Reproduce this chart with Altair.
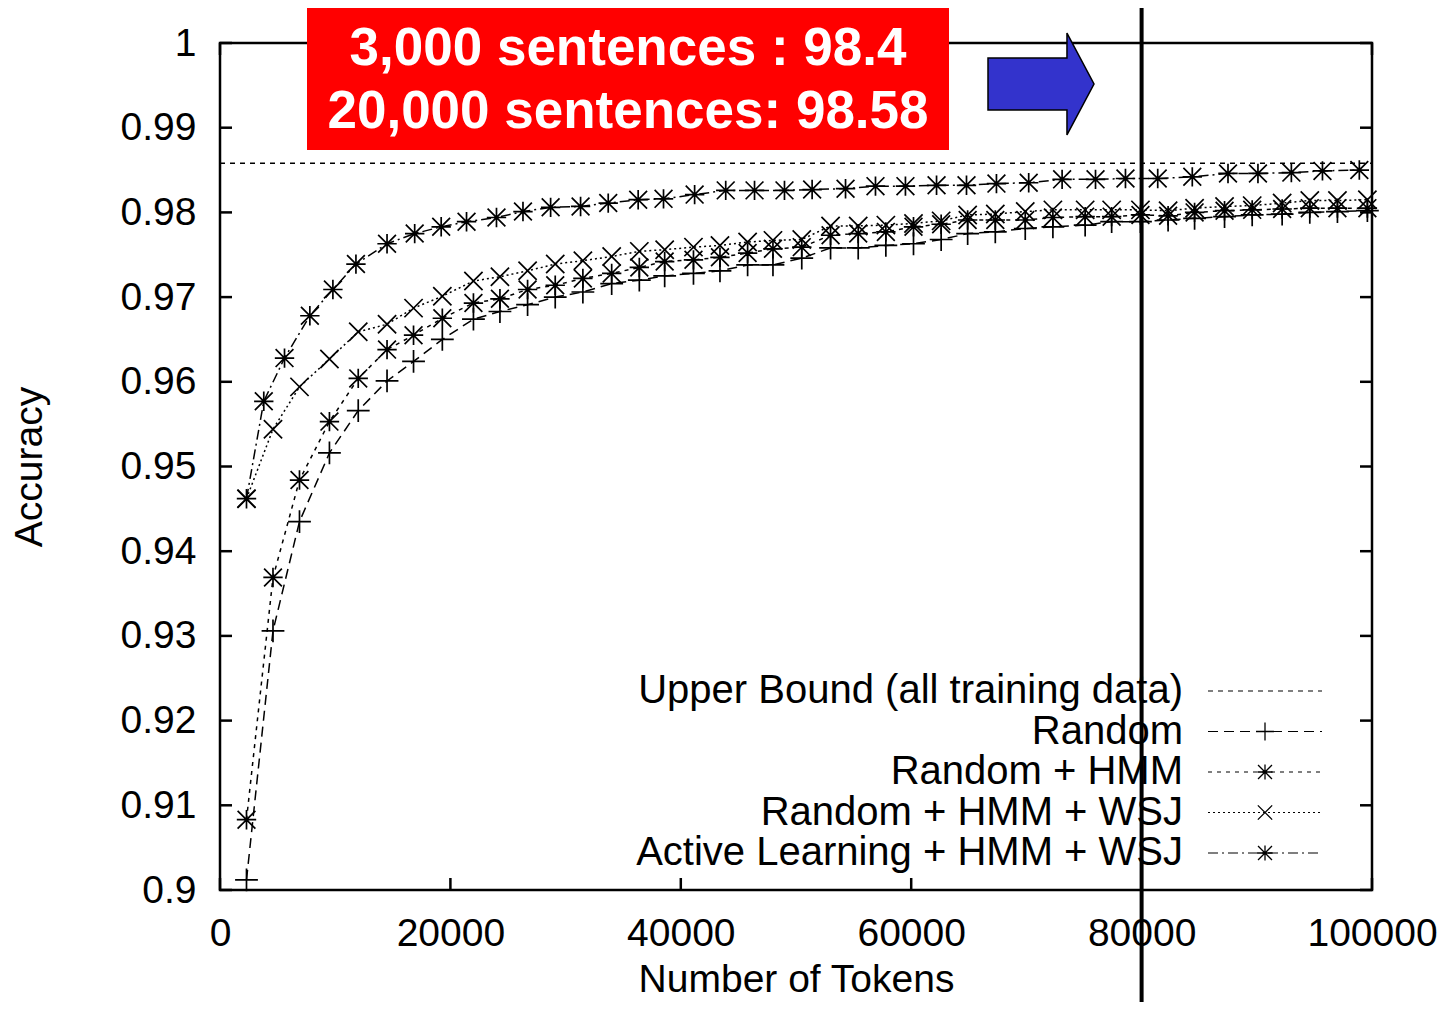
import altair as alt
import pandas as pd

# ---------------- data ----------------
series_names = [
    "Upper Bound (all training data)",
    "Random",
    "Random + HMM",
    "Random + HMM + WSJ",
    "Active Learning + HMM + WSJ",
]

upper_tokens = [0, 100000]
upper_acc = [0.9858, 0.9858]

tokens = [2300, 4600, 6900, 9500, 12000, 14500, 16800, 19300, 22000, 24300,
          26700, 29100, 31500, 34000, 36400, 38600, 41100, 43400, 45800, 48000,
          50500, 53000, 55400, 57800, 60200, 62600, 64900, 67300, 69900, 72300,
          75100, 77400, 79900, 82300, 84600, 87200, 89600, 92200, 94600, 97000,
          99600]

random_acc = [0.9012, 0.9306, 0.9435, 0.9516, 0.9566, 0.9601, 0.9624, 0.9650, 0.9674, 0.9683,
              0.9691, 0.9700, 0.9706, 0.9716, 0.9720, 0.9725, 0.9728, 0.9731, 0.9738, 0.9738,
              0.9746, 0.9758, 0.9758, 0.9761, 0.9763, 0.9768, 0.9775, 0.9777, 0.9781, 0.9783,
              0.9785, 0.9789, 0.9789, 0.9791, 0.9793, 0.9795, 0.9797, 0.9798, 0.9800, 0.9801,
              0.9802]

hmm_acc = [0.9083, 0.9369, 0.9484, 0.9553, 0.9604, 0.9638, 0.9655, 0.9675, 0.9693, 0.9698,
           0.9709, 0.9714, 0.9722, 0.9728, 0.9735, 0.9742, 0.9744, 0.9747, 0.9752, 0.9757,
           0.9759, 0.9773, 0.9775, 0.9777, 0.9783, 0.9786, 0.9791, 0.9791, 0.9791, 0.9794,
           0.9795, 0.9795, 0.9797, 0.9796, 0.9800, 0.9802, 0.9803, 0.9804, 0.9805, 0.9805,
           0.9805]

wsj_acc = [0.9462, 0.9544, 0.9594, 0.9627, 0.9659, 0.9668, 0.9687, 0.9701, 0.9719, 0.9724,
           0.9731, 0.9739, 0.9743, 0.9748, 0.9754, 0.9756, 0.9759, 0.9761, 0.9765, 0.9767,
           0.9768, 0.9784, 0.9784, 0.9785, 0.9787, 0.9790, 0.9797, 0.9798, 0.9801, 0.9803,
           0.9803, 0.9803, 0.9803, 0.9802, 0.9805, 0.9807, 0.9808, 0.9811, 0.9814, 0.9814,
           0.9815]

al_tokens = [2300, 3800, 5600, 7800, 9800, 11800, 14500, 16900, 19200, 21400,
             24000, 26300, 28700, 31300, 33700, 36300, 38500, 41200, 43900, 46400,
             49000, 51400, 54300, 56900, 59500, 62200, 64800, 67400, 70200, 73100,
             76000, 78600, 81400, 84400, 87500, 90100, 93000, 95700, 98900]

al_acc = [0.9462, 0.9577, 0.9628, 0.9678, 0.9709, 0.9739, 0.9763, 0.9775, 0.9783, 0.9789,
          0.9794, 0.9801, 0.9806, 0.9807, 0.9811, 0.9815, 0.9816, 0.9821, 0.9826, 0.9826,
          0.9826, 0.9827, 0.9828, 0.9831, 0.9831, 0.9832, 0.9832, 0.9834, 0.9835, 0.9839,
          0.9839, 0.9840, 0.9840, 0.9842, 0.9846, 0.9846, 0.9847, 0.9849, 0.9850]

x_ticks = [0, 20000, 40000, 60000, 80000, 100000]
y_ticks = [0.9, 0.91, 0.92, 0.93, 0.94, 0.95, 0.96, 0.97, 0.98, 0.99, 1.0]
marker_tokens = [80000]
box_lines = ["3,000 sentences : 98.4", "20,000 sentences: 98.58"]

# ---------------- tables ----------------
rows = []
for t, a in zip(upper_tokens, upper_acc):
    rows.append({"series": series_names[0], "tokens": t, "acc": a})
for name, ys in [(series_names[1], random_acc), (series_names[2], hmm_acc), (series_names[3], wsj_acc)]:
    for t, a in zip(tokens, ys):
        rows.append({"series": name, "tokens": t, "acc": a})
for t, a in zip(al_tokens, al_acc):
    rows.append({"series": series_names[4], "tokens": t, "acc": a})
df = pd.DataFrame(rows)
df_pts = df[df["series"] != series_names[0]]

W, H = 1152, 847
FONT = "Liberation Sans"

PLUS = "M -1 0 L 1 0 M 0 -1 L 0 1"
STAR = "M -0.85 0 L 0.85 0 M 0 -0.85 L 0 0.85 M -0.78 -0.78 L 0.78 0.78 M -0.78 0.78 L 0.78 -0.78"
XMARK = "M -0.8 -0.8 L 0.8 0.8 M -0.8 0.8 L 0.8 -0.8"
ARROW = "M -1 -0.49 L 0.49 -0.49 L 0.49 -0.96 L 1 0 L 0.49 0.96 L 0.49 0.49 L -1 0.49 Z"

x_scale = alt.Scale(domain=[0, 100000], nice=False, zero=False)
y_scale = alt.Scale(domain=[0.9, 1.0], nice=False, zero=False)
dash_scale = alt.Scale(domain=series_names, range=[[5, 5], [10, 6], [4, 5], [2, 3], [10, 4, 2, 4]])
shape_scale = alt.Scale(domain=series_names[1:], range=[PLUS, STAR, XMARK, STAR])

x_axis = alt.Axis(values=x_ticks, format="d", ticks=False, tickSize=0, domain=False, grid=False,
                  labelFont=FONT, labelFontSize=39, labelColor="black", labelPadding=24,
                  labelFlush=False, labelOverlap=False,
                  title="Number of Tokens", titleFont=FONT, titleFontSize=39, titleFontWeight="normal",
                  titleColor="black", titleX=576, titleY=101, titleBaseline="alphabetic", titleAlign="center")
y_axis = alt.Axis(values=y_ticks, format=".2~f", ticks=False, tickSize=0, domain=False, grid=False,
                  labelFont=FONT, labelFontSize=39, labelColor="black", labelPadding=24,
                  labelFlush=False, labelOverlap=False,
                  title="Accuracy", titleFont=FONT, titleFontSize=39, titleFontWeight="normal",
                  titleColor="black", titleX=-179, titleY=423.5, titleAngle=270,
                  titleBaseline="alphabetic", titleAlign="center")

lines = alt.Chart(df).mark_line(color="black", strokeWidth=1.5).encode(
    x=alt.X("tokens:Q", scale=x_scale, axis=x_axis),
    y=alt.Y("acc:Q", scale=y_scale, axis=y_axis),
    strokeDash=alt.StrokeDash("series:N", scale=dash_scale, legend=None),
    detail="series:N",
)
points = alt.Chart(df_pts).mark_point(filled=False, color="black", strokeWidth=1.7, size=520, opacity=1).encode(
    x=alt.X("tokens:Q", scale=x_scale),
    y=alt.Y("acc:Q", scale=y_scale),
    shape=alt.Shape("series:N", scale=shape_scale, legend=None),
)

ytick_df = pd.DataFrame({"acc": y_ticks})
xtick_df = pd.DataFrame({"tokens": x_ticks})
yt_left = alt.Chart(ytick_df).mark_rule(color="black", strokeWidth=2.5).encode(
    y=alt.Y("acc:Q", scale=y_scale), x=alt.value(0), x2=alt.value(12))
yt_right = alt.Chart(ytick_df).mark_rule(color="black", strokeWidth=2.5).encode(
    y=alt.Y("acc:Q", scale=y_scale), x=alt.value(W - 12), x2=alt.value(W))
xt_bottom = alt.Chart(xtick_df).mark_rule(color="black", strokeWidth=2.5).encode(
    x=alt.X("tokens:Q", scale=x_scale), y=alt.value(H - 12), y2=alt.value(H))
xt_top = alt.Chart(xtick_df).mark_rule(color="black", strokeWidth=2.5).encode(
    x=alt.X("tokens:Q", scale=x_scale), y=alt.value(0), y2=alt.value(12))
vline = alt.Chart(pd.DataFrame({"tokens": marker_tokens})).mark_rule(color="black", strokeWidth=4).encode(
    x=alt.X("tokens:Q", scale=x_scale), y=alt.value(-35), y2=alt.value(H + 112))

main = alt.layer(lines, points, yt_left, yt_right, xt_bottom, xt_top)

# ---------------- legend (inside plot, bottom right) ----------------
leg_df = pd.DataFrame({"series": series_names, "row": list(range(len(series_names)))})
leg_y = alt.Scale(domain=[0, len(series_names) - 1], range=[648, 810], nice=False, zero=False)
leg_text = alt.Chart(leg_df).mark_text(align="right", baseline="middle", font=FONT, fontSize=40,
                                       color="black").encode(
    text="series:N", y=alt.Y("row:Q", scale=leg_y, axis=None), x=alt.value(963))
leg_rule = alt.Chart(leg_df).mark_rule(color="black", strokeWidth=1.2).encode(
    y=alt.Y("row:Q", scale=leg_y, axis=None), x=alt.value(988), x2=alt.value(1102),
    strokeDash=alt.StrokeDash("series:N", scale=dash_scale, legend=None))
leg_pts = alt.Chart(leg_df[leg_df["series"] != series_names[0]]).mark_point(
    filled=False, color="black", strokeWidth=1.3, size=320, opacity=1).encode(
    y=alt.Y("row:Q", scale=leg_y, axis=None), x=alt.value(1045),
    shape=alt.Shape("series:N", scale=shape_scale, legend=None))
legend = alt.layer(leg_text, leg_rule, leg_pts)

# ---------------- annotations ----------------
one = pd.DataFrame({"k": [0]})
box = alt.Chart(one).mark_rect(color="#ff0000", opacity=1).encode(
    x=alt.value(87), x2=alt.value(729), y=alt.value(-40), y2=alt.value(107))
t1 = alt.Chart(one).mark_text(text=box_lines[0], font=FONT, fontSize=53, fontWeight="bold",
                              color="white", align="center", baseline="alphabetic").encode(
    x=alt.value(408), y=alt.value(22))
t2 = alt.Chart(one).mark_text(text=box_lines[1], font=FONT, fontSize=53, fontWeight="bold",
                              color="white", align="center", baseline="alphabetic").encode(
    x=alt.value(408), y=alt.value(85))
arrow = alt.Chart(one).mark_point(shape=ARROW, size=11236, filled=True, fill="#3333cc",
                                  stroke="black", strokeWidth=1.5, opacity=1).encode(
    x=alt.value(821), y=alt.value(41))

chart = alt.layer(main, legend, vline, box, t1, t2, arrow).resolve_scale(
    y="independent"
).properties(
    width=W, height=H, autosize="none",
    padding={"left": 212, "top": 35, "right": 72, "bottom": 112},
    background="white",
).configure_view(stroke="black", strokeWidth=2.5)

chart.save("out.html", embed_options={"renderer": "svg", "actions": False})
